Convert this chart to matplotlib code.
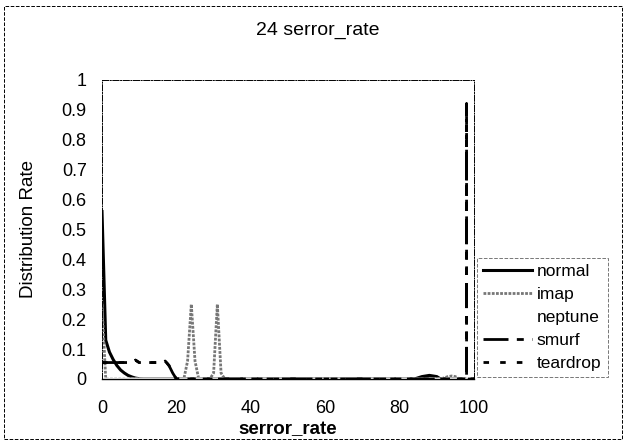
import matplotlib
matplotlib.use("Agg")
import matplotlib.pyplot as plt
from matplotlib.patches import Rectangle

#************** data (x = serror_rate %, y = distribution rate) **************
normal_x = [0, 1, 2, 3, 4, 5, 6, 7, 8, 9, 10, 11, 84, 86, 88, 90, 91, 100]
normal_y = [0.56, 0.13, 0.09, 0.065, 0.045, 0.03, 0.02, 0.012, 0.007, 0.003, 0.001, 0, 0, 0.008, 0.012, 0.008, 0, 0]

imap_x = [0, 1, 22, 23, 24, 25, 26, 29, 30, 31, 32, 33, 91, 93, 94, 95, 96, 100]
imap_y = [0.25, 0, 0, 0.06, 0.25, 0.06, 0, 0, 0.02, 0.25, 0.02, 0, 0, 0.008, 0.01, 0.008, 0, 0]

neptune_x = [0, 97, 98, 99, 100]
neptune_y = [0, 0, 0, 0.01, 0.99]

smurf_x = [0, 8, 9, 10, 16, 17, 18, 19, 20, 98, 98, 98, 100]
smurf_y = [0.055, 0.055, 0.063, 0.055, 0.055, 0.06, 0.045, 0.02, 0, 0, 0.92, 0, 0]

teardrop_x = [0, 8, 9, 10, 16, 17, 18, 19, 20, 98, 98, 98, 100]
teardrop_y = [0.055, 0.055, 0.063, 0.055, 0.055, 0.06, 0.045, 0.02, 0, 0, 0.92, 0, 0]

x_ticks = [0, 20, 40, 60, 80, 100]
y_ticks = [0, 0.1, 0.2, 0.3, 0.4, 0.5, 0.6, 0.7, 0.8, 0.9, 1]
y_labels = ["0", "0.1", "0.2", "0.3", "0.4", "0.5", "0.6", "0.7", "0.8", "0.9", "1"]

plt.rcParams["font.family"] = ["Liberation Sans", "DejaVu Sans"]

fig = plt.figure(figsize=(6.27, 4.43), dpi=100)
ax = fig.add_axes([0.1627, 0.1445, 0.5933, 0.675])

ax.plot(normal_x, normal_y, color="black", lw=2.2, label="normal")
ax.plot(imap_x, imap_y, color="#777777", lw=2.0, linestyle=(0, (1, 0.5)), label="imap")
ax.plot(neptune_x, neptune_y, color="white", lw=2, label="neptune")
ax.plot(smurf_x, smurf_y, color="black", lw=2, linestyle=(0, (9, 3, 2.5, 3, 2.5, 3)), label="smurf")
ax.plot(teardrop_x, teardrop_y, color="black", lw=2, linestyle=(0, (2, 4)), label="teardrop")

ax.set_xlim(0, 100)
ax.set_ylim(0, 1)
ax.set_xticks(x_ticks)
ax.set_yticks(y_ticks)
ax.set_yticklabels(y_labels)
ax.tick_params(axis="both", length=0, labelsize=13)
ax.tick_params(axis="y", pad=11)
ax.tick_params(axis="x", pad=15)

for side in ["left", "top", "right"]:
    ax.spines[side].set_linestyle("-.")
    ax.spines[side].set_linewidth(0.7)
ax.spines["bottom"].set_linewidth(1.0)

fig.text(318 / 627, 1 - 30 / 443, "24 serror_rate", fontsize=14, ha="center", va="center")
ax.set_xlabel("serror_rate", fontsize=13.5, fontweight="bold")
ax.xaxis.set_label_coords(0.5, -0.14)
ax.set_ylabel("Distribution Rate", fontsize=13.5)
ax.yaxis.set_label_coords(-0.175, 0.5)

leg = ax.legend(loc="lower left", bbox_to_anchor=(1.008, 0.007), fontsize=12.5,
                frameon=True, fancybox=False, handlelength=2.8, handletextpad=0.3,
                labelspacing=0.45, borderpad=0.35, borderaxespad=0)
leg.get_frame().set_edgecolor("#555555")
leg.get_frame().set_linestyle("--")
leg.get_frame().set_linewidth(0.7)

# outer chart border
fig.patches.append(Rectangle((0.006, 0.008), 0.986, 0.978, transform=fig.transFigure,
                             fill=False, edgecolor="black", linestyle="--", linewidth=0.7))

fig.savefig("out.png", dpi=100)
